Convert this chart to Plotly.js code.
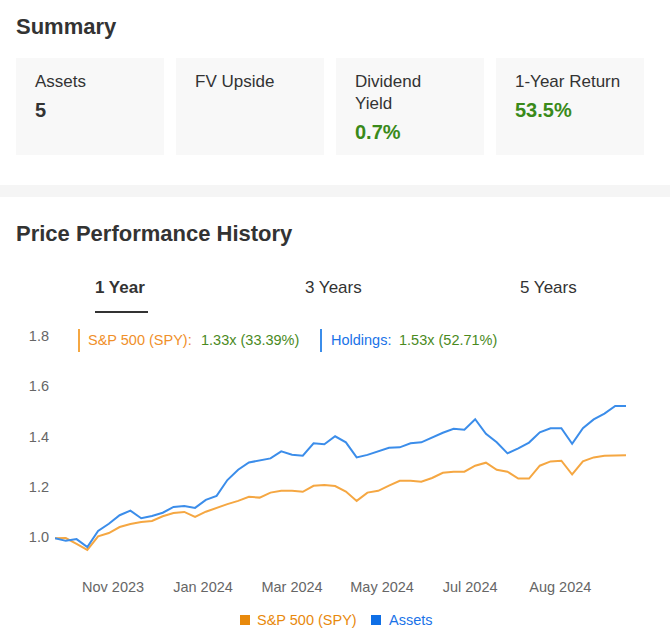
<!DOCTYPE html>
<html>
<head>
<meta charset="utf-8">
<script src="https://cdn.plot.ly/plotly-3.0.1.min.js"></script>
<style>
  html, body { margin:0; padding:0; background:#fff; }
  body { width:670px; height:636px; position:relative; overflow:hidden;
         font-family:"Liberation Sans", Arial, sans-serif; color:#333; }
  .abs { position:absolute; }
  .h2 { font-weight:bold; font-size:22px; line-height:22px; color:#333; white-space:nowrap; }
  .card { position:absolute; top:58px; width:148px; height:97px; background:#f8f8f8; box-sizing:border-box; padding:13px 0 0 19px; }
  .lbl { font-size:17px; line-height:22px; color:#333; }
  .val { font-size:20px; line-height:30px; font-weight:bold; margin-top:2px; color:#333; }
  .green { color:#3a8a1a; }
  .band { left:0; top:185px; width:670px; height:12px; background:#f5f5f5; }
  .tab { font-size:17px; line-height:22px; top:277px; color:#333; white-space:nowrap; }
  #chart { position:absolute; left:0; top:0; width:670px; height:636px; }
</style>
</head>
<body>
<div id="chart"></div>
<div class="abs h2" style="left:16px; top:16px;">Summary</div>
<div class="card" style="left:16px;"><div class="lbl">Assets</div><div class="val">5</div></div>
<div class="card" style="left:176px;"><div class="lbl">FV Upside</div></div>
<div class="card" style="left:336px;"><div class="lbl">Dividend<br>Yield</div><div class="val green">0.7%</div></div>
<div class="card" style="left:496px;"><div class="lbl">1-Year Return</div><div class="val green">53.5%</div></div>
<div class="abs band"></div>
<div class="abs h2" style="left:16px; top:223px;">Price Performance History</div>
<div class="abs tab" style="left:95px; font-weight:bold;">1 Year</div>
<div class="abs" style="left:95px; top:311px; width:53px; height:2px; background:#333;"></div>
<div class="abs tab" style="left:305px;">3 Years</div>
<div class="abs tab" style="left:520px;">5 Years</div>
<script>
// ---- data ----
const weekIndex = [0,1,2,3,4,5,6,7,8,9,10,11,12,13,14,15,16,17,18,19,20,21,22,23,24,25,26,
  27,28,29,30,31,32,33,34,35,36,37,38,39,40,41,42,43,44,45,46,47,48,49,50,51,52,53];
const spyValues = [0.995,0.996,0.973,0.949,1.003,1.016,1.040,1.052,1.060,1.064,1.083,1.096,1.100,1.080,
  1.101,1.117,1.131,1.144,1.160,1.157,1.177,1.184,1.184,1.180,1.204,1.207,1.203,1.181,1.144,1.177,
  1.184,1.205,1.224,1.224,1.220,1.235,1.256,1.260,1.260,1.284,1.296,1.268,1.260,1.233,1.233,1.284,
  1.301,1.304,1.249,1.301,1.317,1.324,1.326,1.326];
const assetValues = [0.995,0.985,0.992,0.960,1.024,1.053,1.087,1.105,1.075,1.084,1.097,1.120,1.124,1.116,
  1.148,1.164,1.227,1.268,1.297,1.304,1.313,1.341,1.328,1.324,1.373,1.369,1.401,1.377,1.317,1.327,
  1.340,1.355,1.357,1.373,1.377,1.397,1.415,1.431,1.427,1.469,1.411,1.377,1.333,1.353,1.376,1.417,
  1.433,1.433,1.371,1.433,1.468,1.491,1.522,1.522];
const xTickLabels = ["Nov 2023","Jan 2024","Mar 2024","May 2024","Jul 2024","Aug 2024"];
const yTickLabels = ["1.0","1.2","1.4","1.6","1.8"];
const seriesNames = ["S&P 500 (SPY)","Assets"];
const summaryLabels = ["S&P 500 (SPY):","Holdings:"];
const summaryValues = ["1.33x (33.39%)","1.53x (52.71%)"];

// ---- layout helpers (pixel -> paper) ----
const L = 55, R = 44, T = 333, B = 66, W = 670, H = 636;
const pw = W - L - R, ph = H - T - B;
const px = v => (v - L) / pw;
const py = v => (H - B - v) / ph;

const orangeLine = '#F5A742', blueLine = '#3B8DEA';
const orangeText = '#F0902A', blueText = '#1A73E8', greenText = '#4A8A1E';
const font = '"Liberation Sans", Arial, sans-serif';

const traces = [
  {x: weekIndex, y: spyValues, type:'scatter', mode:'lines', name: seriesNames[0],
   line:{color: orangeLine, width:2}, showlegend:false, hoverinfo:'skip'},
  {x: weekIndex, y: assetValues, type:'scatter', mode:'lines', name: seriesNames[1],
   line:{color: blueLine, width:2}, showlegend:false, hoverinfo:'skip'}
];

const ann = (x, y, text, color, anchor) => ({xref:'paper', yref:'paper', x: px(x), y: py(y),
  text, showarrow:false, xanchor: anchor || 'left', yanchor:'middle',
  font:{family: font, size:14.5, color}});

const layout = {
  width: W, height: H,
  margin: {l:L, r:R, t:T, b:B, pad:0},
  paper_bgcolor:'rgba(0,0,0,0)', plot_bgcolor:'rgba(0,0,0,0)',
  showlegend:false, hovermode:false,
  font:{family: font, size:14.5, color:'#666'},
  xaxis:{range:[0, weekIndex.length - 1], showgrid:false, zeroline:false, showline:false, ticks:'',
    tickmode:'array', tickvals:[5.39, 13.74, 22.0, 30.36, 38.53, 46.9], ticktext: xTickLabels,
    tickfont:{size:14.5, color:'#666'}, ticklabelstandoff:6, fixedrange:true},
  yaxis:{range:[0.869, 1.812], showgrid:false, zeroline:false, showline:false, ticks:'',
    tickmode:'array', tickvals: yTickLabels.map(Number), ticktext: yTickLabels,
    tickfont:{size:14.5, color:'#666'}, ticklabelstandoff:5, fixedrange:true},
  shapes:[
    {type:'line', xref:'paper', yref:'paper', x0:px(79), x1:px(79), y0:py(329), y1:py(352),
     line:{color:orangeLine, width:2}},
    {type:'line', xref:'paper', yref:'paper', x0:px(321), x1:px(321), y0:py(329), y1:py(352),
     line:{color:blueLine, width:2}},
    {type:'rect', xref:'paper', yref:'paper', x0:px(240), x1:px(250), y0:py(615), y1:py(625),
     fillcolor:'#E8890C', line:{width:0}},
    {type:'rect', xref:'paper', yref:'paper', x0:px(371), x1:px(381), y0:py(615), y1:py(625),
     fillcolor:'#0F6FE6', line:{width:0}}
  ],
  annotations:[
    ann(86, 340, summaryLabels[0].replace('&','&amp;'), orangeText),
    ann(199, 340, summaryValues[0], greenText),
    ann(329, 340, summaryLabels[1], blueText),
    ann(397, 340, summaryValues[1], greenText),
    ann(255, 620, seriesNames[0].replace('&','&amp;'), '#E8890C'),
    ann(387, 620, seriesNames[1], '#1A73E8')
  ]
};

Plotly.newPlot('chart', traces, layout, {displayModeBar:false, staticPlot:true});
</script>
</body>
</html>
